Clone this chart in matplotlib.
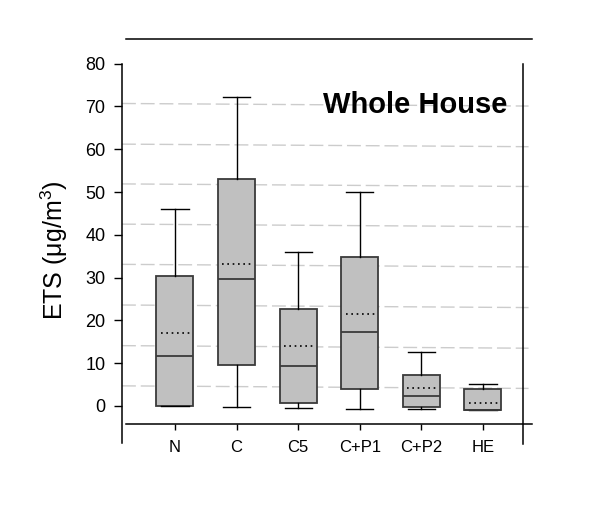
import matplotlib
matplotlib.use("Agg")
import matplotlib.pyplot as plt
import numpy as np

plt.rcParams['font.family'] = ['Liberation Sans', 'DejaVu Sans']
plt.rcParams['mathtext.fontset'] = 'custom'
plt.rcParams['mathtext.rm'] = 'Liberation Sans'
plt.rcParams['mathtext.it'] = 'Liberation Sans:italic'

groups = ["N", "C", "C5", "C+P1", "C+P2", "HE"]
whisker_lo = [0.0, -0.2, -0.5, -0.6, -0.8, -1.0]
q1 = [0.0, 9.5, 0.8, 3.9, -0.2, -1.0]
median = [11.7, 29.6, 9.4, 17.2, 2.4, -1.0]
q3 = [30.3, 53.1, 22.6, 34.9, 7.2, 3.9]
whisker_hi = [46.0, 72.1, 36.0, 50.1, 12.7, 5.1]
mean = [17.1, 33.2, 13.9, 21.4, 4.2, 0.6]

yticks = [0, 10, 20, 30, 40, 50, 60, 70, 80]
# reference lines (slightly tilted in the original scan)
grid_left = [70.7, 61.2, 51.9, 42.5, 33.1, 23.6, 14.1, 4.7]
grid_drop = 0.6

fig = plt.figure(figsize=(6, 5.22), dpi=100)
ax = fig.add_axes([0.2033, 0.1872, 0.6688, 0.7375])

x = np.arange(len(groups))
ax.set_xlim(-0.860, 5.654)
ax.set_ylim(-4.28, 85.7)

for g in grid_left:
    ax.plot([-0.860, 5.74], [g, g - grid_drop], color='#cccccc', lw=1.0,
            dashes=(10, 3.5), clip_on=False, zorder=1)

stats = []
for i in range(len(groups)):
    stats.append(dict(med=median[i], q1=q1[i], q3=q3[i],
                      whislo=whisker_lo[i], whishi=whisker_hi[i],
                      fliers=[], label=groups[i]))

ax.bxp(stats, positions=x, widths=0.6, capwidths=0.44, patch_artist=True,
       showfliers=False, manage_ticks=False,
       boxprops=dict(facecolor='#c0c0c0', edgecolor='#3a3a3a', linewidth=1.3),
       medianprops=dict(color='#3a3a3a', linewidth=1.3),
       whiskerprops=dict(color='black', linewidth=1.0),
       capprops=dict(color='black', linewidth=1.0), zorder=3)

ax.hlines(mean, x - 0.23, x + 0.25, colors='black', linestyles=(0, (1, 2.2)),
          linewidth=1.2, zorder=4)

for s in ax.spines.values():
    s.set_visible(False)

# frame lines
ax.plot([0.0092, 1.0217], [1, 1], transform=ax.transAxes, color='black', lw=1.1, clip_on=False)
ax.plot([0.0092, 1.0217], [0, 0], transform=ax.transAxes, color='black', lw=1.1, clip_on=False)
ax.plot([-0.860, -0.860], [80, -8.65], color='black', lw=1.1, clip_on=False)
ax.plot([5.654, 5.654], [80, -8.9], color='black', lw=1.1, clip_on=False)

ax.set_yticks(yticks)
ax.tick_params(axis='y', length=5.8, width=1.0, pad=6, labelsize=13)
ax.set_xticks(x)
ax.set_xticklabels(groups)
ax.tick_params(axis='x', length=4.5, width=1.0, pad=7, labelsize=12)

ax.text(3.896, 68.4, "Whole House", fontsize=21, fontweight='bold',
        ha='center', va='baseline')

fig.text(54 / 600, 1 - 250 / 522, r"ETS ($\mathrm{\mu g/m^3}$)", fontsize=18,
         rotation=90, ha='center', va='center')

fig.savefig("out.png", dpi=100)
